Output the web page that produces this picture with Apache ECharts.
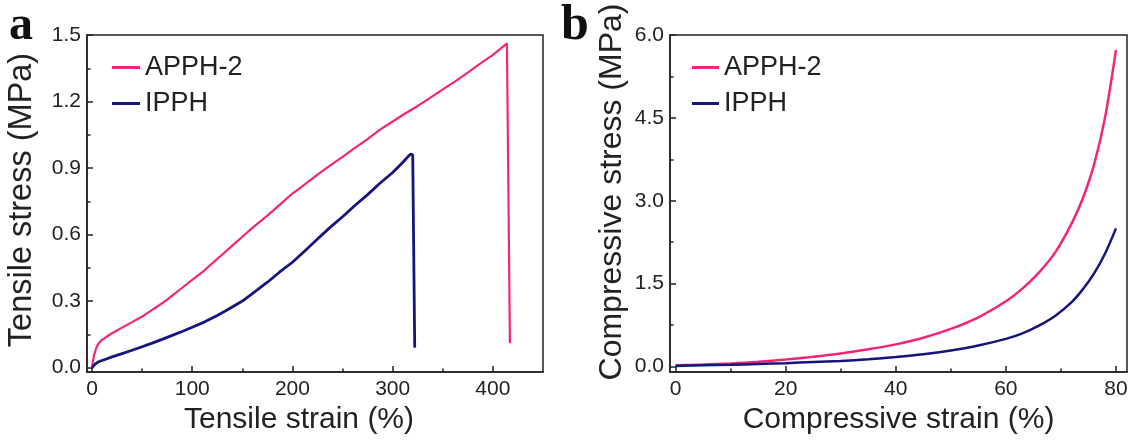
<!DOCTYPE html>
<html>
<head>
<meta charset="utf-8">
<script src="https://cdn.jsdelivr.net/npm/echarts@6/dist/echarts.min.js"></script>
<style>
html,body{margin:0;padding:0;background:#fff;}
#chart{width:1133px;height:441px;}
</style>
</head>
<body>
<div id="chart"></div>
<script>
// ---- Data ----
var seriesNames = ['APPH-2', 'IPPH'];

// Panel a: tensile strain (%) vs tensile stress (MPa)
var tensileAPPH2 = [
  [0,0],[1,0.03],[2,0.055],[4,0.085],[6,0.105],[10,0.125],[15,0.14],[20,0.155],[30,0.18],[40,0.205],
  [50,0.23],[60,0.26],[70,0.29],[80,0.325],[90,0.36],[100,0.395],[110,0.43],[120,0.47],[130,0.51],
  [140,0.55],[150,0.59],[160,0.63],[175,0.685],[190,0.745],[200,0.785],[212,0.825],[225,0.87],
  [237,0.91],[250,0.95],[262,0.99],[275,1.03],[287,1.072],[300,1.11],[312,1.145],[325,1.18],
  [337,1.215],[350,1.255],[362,1.29],[375,1.33],[387,1.37],[400,1.41],[408,1.44],[414,1.462],
  [415,1.462],[417,0.11]
];
var tensileIPPH = [
  [0,0],[3,0.015],[6,0.025],[10,0.032],[15,0.04],[20,0.048],[30,0.063],[40,0.078],[50,0.094],
  [60,0.11],[70,0.127],[80,0.145],[90,0.163],[100,0.182],[112,0.205],[125,0.235],[137,0.265],
  [150,0.3],[162,0.34],[175,0.385],[187,0.43],[200,0.475],[212,0.525],[225,0.58],[237,0.63],
  [250,0.68],[262,0.73],[275,0.78],[287,0.83],[300,0.88],[310,0.925],[316,0.955],[318,0.963],
  [320,0.96],[322,0.09]
];

// Panel b: compressive strain (%) vs compressive stress (MPa)
var compAPPH2 = [
  [0,0.02],[5,0.035],[10,0.055],[15,0.085],[20,0.125],[25,0.175],[30,0.235],[35,0.31],[40,0.4],
  [45,0.52],[50,0.68],[55,0.89],[60,1.18],[63,1.41],[66,1.7],[69,2.07],[72,2.6],[74,3.05],
  [76,3.65],[78,4.5],[80,5.73]
];
var compIPPH = [
  [0,0.01],[5,0.02],[10,0.03],[15,0.045],[20,0.06],[25,0.08],[30,0.1],[35,0.13],[40,0.17],
  [45,0.22],[50,0.29],[55,0.38],[60,0.5],[63,0.6],[66,0.74],[69,0.92],[72,1.17],[74,1.4],
  [76,1.68],[78,2.04],[80,2.5]
];

// Tick values
var tensileXTicks = [0, 100, 200, 300, 400];
var tensileXMinor = [50, 150, 250, 350];
var tensileYTicks = [0, 0.3, 0.6, 0.9, 1.2, 1.5];
var tensileYMinor = [0.15, 0.45, 0.75, 1.05, 1.35];
var compXTicks = [0, 20, 40, 60, 80];
var compXMinor = [10, 30, 50, 70];
var compYTicks = [0, 1.5, 3.0, 4.5, 6.0];
var compYMinor = [0.75, 2.25, 3.75, 5.25];

var PINK = '#f52479';
var NAVY = '#15157c';
var INK = '#222';
var FONT = '"Liberation Sans", Arial, sans-serif';

function mainX(grid, min, max, ticks, name, namePad, fmt) {
  return {
    type: 'value', gridIndex: grid, min: min, max: max, position: 'bottom',
    splitLine: {show: false},
    axisLine: {show: true, onZero: false, lineStyle: {color: INK, width: 1.5}},
    axisTick: {show: true, inside: true, length: 6, customValues: ticks, lineStyle: {color: INK, width: 1.5}},
    axisLabel: {show: true, customValues: ticks, fontSize: 21, color: INK, fontFamily: FONT, margin: 7, formatter: fmt},
    name: name, nameLocation: 'middle', nameGap: 27,
    nameTextStyle: {fontSize: 30, color: INK, fontFamily: FONT, padding: namePad}
  };
}
function minorAxis(grid, min, max, ticks, pos) {
  return {
    type: 'value', gridIndex: grid, min: min, max: max, position: pos,
    splitLine: {show: false},
    axisLine: {show: false, onZero: false},
    axisTick: {show: true, inside: true, length: 3.5, customValues: ticks, lineStyle: {color: INK, width: 1.5}},
    axisLabel: {show: false}
  };
}
function mainY(grid, min, max, ticks, name, gap, size, namePad, fmt) {
  return {
    type: 'value', gridIndex: grid, min: min, max: max, position: 'left',
    splitLine: {show: false},
    axisLine: {show: true, onZero: false, lineStyle: {color: INK, width: 1.5}},
    axisTick: {show: true, inside: true, length: 6, customValues: ticks, lineStyle: {color: INK, width: 1.5}},
    axisLabel: {show: true, customValues: ticks, fontSize: 21, color: INK, fontFamily: FONT, margin: 6, formatter: fmt},
    name: name, nameLocation: 'middle', nameGap: gap,
    nameTextStyle: {fontSize: size, color: INK, fontFamily: FONT, padding: namePad}
  };
}
var fmt1 = function (v) { return Number(v).toFixed(1); };
var fmt0 = function (v) { return String(Math.round(v)); };

var chart = echarts.init(document.getElementById('chart'), null, {renderer: 'canvas'});
chart.setOption({
  backgroundColor: '#fff',
  animation: false,
  grid: [
    {left: 87, top: 35, width: 456, height: 337, show: true, borderColor: INK, borderWidth: 1.5, backgroundColor: 'transparent'},
    {left: 670, top: 35, width: 457, height: 337, show: true, borderColor: INK, borderWidth: 1.5, backgroundColor: 'transparent'}
  ],
  xAxis: [
    mainX(0, -5, 450, tensileXTicks, 'Tensile strain (%)', [0, 32, 0, 0], fmt0),
    mainX(1, -1, 82, compXTicks, 'Compressive strain (%)', [0, 0, 0, 0], fmt0),
    minorAxis(0, -5, 450, tensileXMinor, 'bottom'),
    minorAxis(1, -1, 82, compXMinor, 'bottom')
  ],
  yAxis: [
    mainY(0, -0.02, 1.5, tensileYTicks, 'Tensile stress (MPa)', 48, 32.5, [0, 0, 0, 7], fmt1),
    mainY(1, -0.1, 6.0, compYTicks, 'Compressive stress (MPa)', 42, 32, [0, 0, 0, 23], fmt1),
    minorAxis(0, -0.02, 1.5, tensileYMinor, 'left'),
    minorAxis(1, -0.1, 6.0, compYMinor, 'left')
  ],
  legend: [
    {
      orient: 'vertical', left: 107, top: 49, itemWidth: 28, itemHeight: 3, itemGap: 9,
      icon: 'rect', selectedMode: false, data: seriesNames,
      textStyle: {fontSize: 27, color: INK, fontFamily: FONT, lineHeight: 26, padding: [0, 0, 0, 0]}
    },
    {
      orient: 'vertical', left: 687, top: 49, itemWidth: 27, itemHeight: 3, itemGap: 9,
      icon: 'rect', selectedMode: false, data: seriesNames,
      textStyle: {fontSize: 27, color: INK, fontFamily: FONT, lineHeight: 26, padding: [0, 0, 0, 0]}
    }
  ],
  graphic: [
    {type: 'text', left: 9, top: 3, style: {text: 'a', font: 'bold 48px "Liberation Serif", "Times New Roman", serif', fill: '#111'}},
    {type: 'text', left: 561, top: 1, style: {text: 'b', font: 'bold 50px "Liberation Serif", "Times New Roman", serif', fill: '#111'}}
  ],
  series: [
    {name: seriesNames[0], type: 'line', xAxisIndex: 0, yAxisIndex: 0, data: tensileAPPH2, showSymbol: false,
     lineStyle: {color: PINK, width: 2.2}, itemStyle: {color: PINK}},
    {name: seriesNames[1], type: 'line', xAxisIndex: 0, yAxisIndex: 0, data: tensileIPPH, showSymbol: false,
     lineStyle: {color: NAVY, width: 2.8}, itemStyle: {color: NAVY}},
    {name: seriesNames[0], type: 'line', xAxisIndex: 1, yAxisIndex: 1, data: compAPPH2, showSymbol: false, smooth: 0.3,
     lineStyle: {color: PINK, width: 2.5}, itemStyle: {color: PINK}},
    {name: seriesNames[1], type: 'line', xAxisIndex: 1, yAxisIndex: 1, data: compIPPH, showSymbol: false, smooth: 0.3,
     lineStyle: {color: NAVY, width: 2.5}, itemStyle: {color: NAVY}}
  ]
});
</script>
</body>
</html>
